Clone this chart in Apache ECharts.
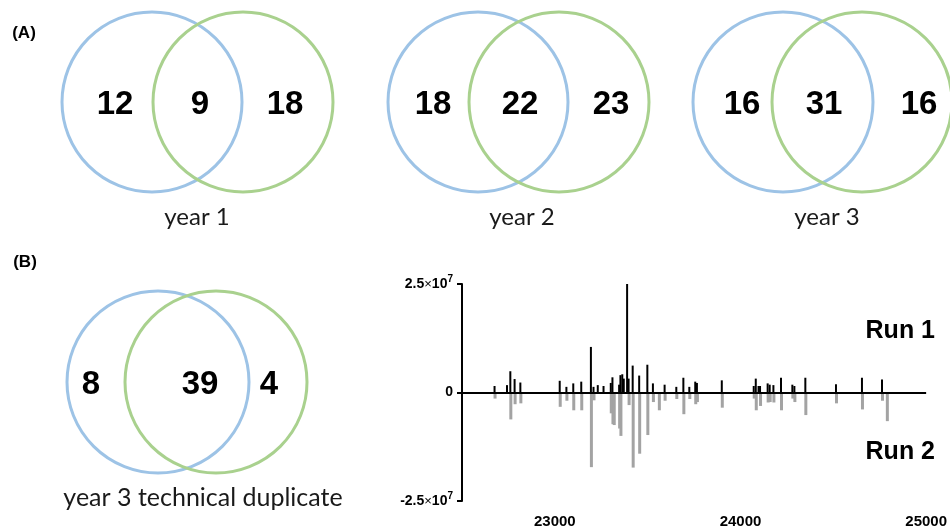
<!DOCTYPE html>
<html>
<head>
<meta charset="utf-8">
<script src="https://cdn.jsdelivr.net/npm/echarts@6/dist/echarts.min.js"></script>
<style>
  html, body { margin: 0; padding: 0; background: #fff; }
  #chart { width: 950px; height: 529px; }
</style>
</head>
<body>
<div id="chart"></div>
<script>
// Venn counts: only in first, shared, only in second
const vennTitles = ['year 1', 'year 2', 'year 3', 'year 3 technical duplicate']
const vennOnlyA = [12, 18, 16, 8]
const vennShared = [9, 22, 31, 39]
const vennOnlyB = [18, 23, 16, 4]

// spectrum: mass and intensity (x 1e7) for both runs
const masses = [22678, 22745, 22763, 22786, 22817, 23029, 23065, 23102, 23145, 23197,
  23211, 23234, 23265, 23304, 23313, 23320, 23349, 23356, 23366, 23374,
  23392, 23400, 23422, 23457, 23501, 23531, 23563, 23594, 23657, 23695,
  23727, 23759, 23768, 23902, 24074, 24085, 24100, 24108, 24149, 24160,
  24180, 24221, 24282, 24293, 24352, 24517, 24657, 24765, 24791]
const run1 = [0.15, 0.17, 0.49, 0.31, 0.23, 0.27, 0.13, 0.21, 0.25, 1.05,
  0.13, 0.17, 0.15, 0.22, 0.35, 0, 0.18, 0.40, 0.42, 0.32,
  2.50, 0.32, 0.62, 0.39, 0.64, 0.21, 0, 0.18, 0.13, 0.34,
  0.13, 0.25, 0.22, 0.28, 0.15, 0.32, 0.15, 0.15, 0.21, 0.18,
  0.17, 0.34, 0.18, 0.15, 0.34, 0.19, 0.34, 0.30, 0]
const run2 = [0.14, 0, 0.62, 0.27, 0.25, 0.33, 0.19, 0.41, 0.41, 1.72,
  0.18, 0, 0, 0.48, 0.73, 0.75, 0.83, 1.00, 0, 0,
  0, 0.29, 1.73, 1.41, 0.98, 0.22, 0.41, 0.19, 0.15, 0.50,
  0.15, 0.27, 0.22, 0.35, 0.14, 0.41, 0, 0.31, 0.23, 0.22,
  0.23, 0.41, 0.14, 0.22, 0.52, 0.25, 0.39, 0.19, 0.66]
const runNames = ['Run 1', 'Run 2']
const xTicks = [23000, 24000, 25000]

// layout of the venn diagrams (pixels)
const vennLayout = [
  { cx: [152, 243], cy: 102, r: 90, nx: [115, 200, 285], ny: 105, lx: 197, ly: 217, fs: 24 },
  { cx: [478, 559], cy: 102, r: 90, nx: [433, 520, 611], ny: 105, lx: 522, ly: 217, fs: 24 },
  { cx: [783, 862], cy: 102, r: 90, nx: [742, 824, 919], ny: 105, lx: 827, ly: 217, fs: 24 },
  { cx: [158, 216], cy: 382, r: 91, nx: [91, 200, 269], ny: 385, lx: 203, ly: 498, fs: 25 }
]
const blue = '#9dc3e6'
const green = '#a9d18e'
const boldFont = 'Liberation Sans, Arial, sans-serif'

const chart = echarts.init(document.getElementById('chart'))

const graphics = []
vennLayout.forEach((v, i) => {
  graphics.push({ type: 'circle', shape: { cx: v.cx[0], cy: v.cy, r: v.r }, style: { fill: 'none', stroke: blue, lineWidth: 3 } })
  graphics.push({ type: 'circle', shape: { cx: v.cx[1], cy: v.cy, r: v.r }, style: { fill: 'none', stroke: green, lineWidth: 3 } })
  const nums = [vennOnlyA[i], vennShared[i], vennOnlyB[i]]
  nums.forEach((n, k) => {
    graphics.push({
      type: 'text', x: v.nx[k], y: v.ny,
      style: { text: String(n), font: 'bold 33px ' + boldFont, fill: '#000', textAlign: 'center', textVerticalAlign: 'middle' }
    })
  })
  graphics.push({
    type: 'text', x: v.lx, y: v.ly,
    style: { text: vennTitles[i], font: v.fs + 'px Lato, sans-serif', fill: '#1a1a1a', textAlign: 'center', textVerticalAlign: 'middle' }
  })
})
graphics.push({ type: 'text', x: 24, y: 33, style: { text: '(A)', font: 'bold 17px ' + boldFont, fill: '#000', textAlign: 'center', textVerticalAlign: 'middle' } })
graphics.push({ type: 'text', x: 25, y: 262, style: { text: '(B)', font: 'bold 17px ' + boldFont, fill: '#000', textAlign: 'center', textVerticalAlign: 'middle' } })
graphics.push({ type: 'text', x: 935, y: 331, style: { text: runNames[0], font: 'bold 25px ' + boldFont, fill: '#000', textAlign: 'right', textVerticalAlign: 'middle' } })
graphics.push({ type: 'text', x: 935, y: 452, style: { text: runNames[1], font: 'bold 25px ' + boldFont, fill: '#000', textAlign: 'right', textVerticalAlign: 'middle' } })

const yLabel = (v) => {
  if (v === 0) return '{n|0}'
  const exp = Math.floor(Math.log10(Math.abs(v)))
  const man = v / Math.pow(10, exp)
  return '{n|' + man + '}{m|×}{n|10}{s|' + exp + '}'
}

const option = {
  animation: false,
  backgroundColor: '#fff',
  graphic: graphics,
  grid: { left: 462, right: 23, top: 284, bottom: 28 },
  xAxis: {
    type: 'value',
    min: 22500,
    max: 25000,
    interval: 500,
    axisLine: { show: false, onZero: false },
    axisTick: { show: false },
    splitLine: { show: false },
    axisLabel: {
      margin: 13,
      fontFamily: boldFont,
      fontWeight: 'bold',
      fontSize: 15,
      color: '#000',
      showMinLabel: true,
      showMaxLabel: true,
      formatter: (v) => xTicks.includes(v) ? String(v) : ''
    }
  },
  yAxis: {
    type: 'value',
    min: -25000000,
    max: 25000000,
    interval: 25000000,
    axisLine: { show: true, lineStyle: { color: '#000', width: 2 } },
    axisTick: { show: true, length: 5, lineStyle: { color: '#000', width: 2 } },
    splitLine: { show: false },
    axisLabel: {
      margin: 9,
      formatter: yLabel,
      rich: {
        n: { fontFamily: boldFont, fontWeight: 'bold', fontSize: 14, color: '#000' },
        m: { fontFamily: boldFont, fontSize: 13, color: '#000' },
        s: { fontFamily: boldFont, fontWeight: 'bold', fontSize: 10, color: '#000', padding: [0, 0, 9, 0] }
      }
    }
  },
  series: [
    {
      name: runNames[0],
      type: 'bar',
      barWidth: 2,
      barGap: '-100%',
      itemStyle: { color: '#000' },
      data: masses.map((m, i) => [m, run1[i] * 1e7]),
      markLine: {
        silent: true,
        symbol: 'none',
        label: { show: false },
        lineStyle: { color: '#000', width: 2, type: 'solid' },
        data: [{ yAxis: 0 }]
      }
    },
    {
      name: runNames[1],
      type: 'bar',
      barWidth: 3,
      barGap: '-100%',
      itemStyle: { color: '#a3a3a3' },
      data: masses.map((m, i) => [m, -run2[i] * 1e7])
    }
  ]
}

chart.setOption(option)
window.addEventListener('resize', () => chart.resize())
</script>
</body>
</html>
